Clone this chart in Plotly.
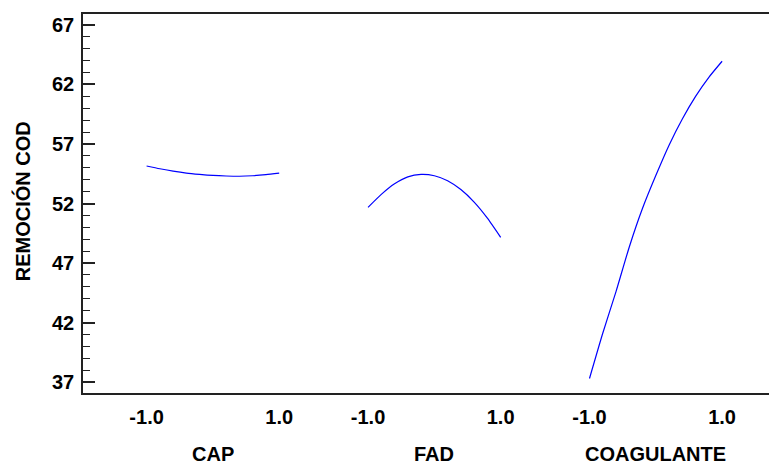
import plotly.graph_objects as go

# ---- data ----
factors = ["CAP", "FAD", "COAGULANTE"]
levels = [-1.0, -0.8, -0.6, -0.4, -0.2, 0.0, 0.2, 0.4, 0.6, 0.8, 1.0]
cap_values = [55.15, 54.92, 54.72, 54.56, 54.45, 54.36, 54.31, 54.29, 54.33, 54.42, 54.55]
fad_values = [51.68, 52.77, 53.66, 54.24, 54.44, 54.33, 53.91, 53.17, 52.12, 50.77, 49.16]
coag_values = [37.3, 41.1, 44.6, 48.35, 51.6, 54.35, 56.9, 59.1, 61.0, 62.6, 63.95]
tick_labels = ["-1.0", "1.0"]
y_title = "REMOCIÓN COD"

series = [cap_values, fad_values, coag_values]

# ---- layout helpers ----
GAP = 3.34  # horizontal spacing between factor blocks (axis units)
FAMILY = "Liberation Sans, Arial, sans-serif"
TITLE_FONT = dict(family=FAMILY, size=20, color="#000000")
TICK_FONT = dict(family=FAMILY, size=20, color="#000000", weight="bold")
AXIS_COLOR = "#222222"

fig = go.Figure()
tickvals, ticktext = [], []
for i, (name, vals) in enumerate(zip(factors, series)):
    off = i * GAP
    fig.add_trace(go.Scatter(
        x=[lv + off for lv in levels], y=vals, mode="lines",
        line=dict(color="#0000FF", width=1.2, shape="spline", smoothing=0.6),
        showlegend=False, hoverinfo="skip"))
    tickvals += [levels[0] + off, levels[-1] + off]
    ticktext += tick_labels
    fig.add_annotation(x=off, xref="x", y=-0.161, yref="paper",
                       text="<b>%s</b>" % name, showarrow=False, height=20,
                       font=TITLE_FONT, xanchor="center", yanchor="middle")

fig.add_annotation(x=-0.087, xref="paper", y=0.505, yref="paper",
                   text="<b>%s</b>" % y_title, textangle=-90, showarrow=False,
                   font=TITLE_FONT, xanchor="center", yanchor="middle")

# invisible trace to activate right-hand tick axis
fig.add_trace(go.Scatter(x=[None], y=[None], yaxis="y2", showlegend=False))

YR = [36.08, 67.92]
fig.update_layout(
    width=769, height=457,
    margin=dict(l=75, r=0, t=6, b=72),
    paper_bgcolor="white", plot_bgcolor="white",
    font=TITLE_FONT,
    xaxis=dict(range=[-1.959, 2 * GAP + 1.828], tickvals=tickvals, ticktext=ticktext,
               showgrid=False, zeroline=False, showline=True, linecolor=AXIS_COLOR,
               linewidth=1.6, mirror=True, ticks="", ticklabelstandoff=5,
               tickfont=TICK_FONT),
    yaxis=dict(range=YR, tick0=37, dtick=5, showgrid=False, zeroline=False,
               showline=True, linecolor=AXIS_COLOR, linewidth=1.6,
               ticks="inside", ticklen=12, tickwidth=1.6, tickcolor=AXIS_COLOR,
               ticklabelstandoff=3,
               minor=dict(dtick=1, tick0=37, ticks="inside", ticklen=7,
                          tickwidth=1.3, tickcolor=AXIS_COLOR, showgrid=False),
               tickfont=TICK_FONT),
    yaxis2=dict(range=YR, tick0=37, dtick=5, overlaying="y", side="right",
                showgrid=False, zeroline=False, showline=False, showticklabels=False,
                ticks="inside", ticklen=5, tickwidth=1.6, tickcolor=AXIS_COLOR),
)

fig.write_html("out.html")
